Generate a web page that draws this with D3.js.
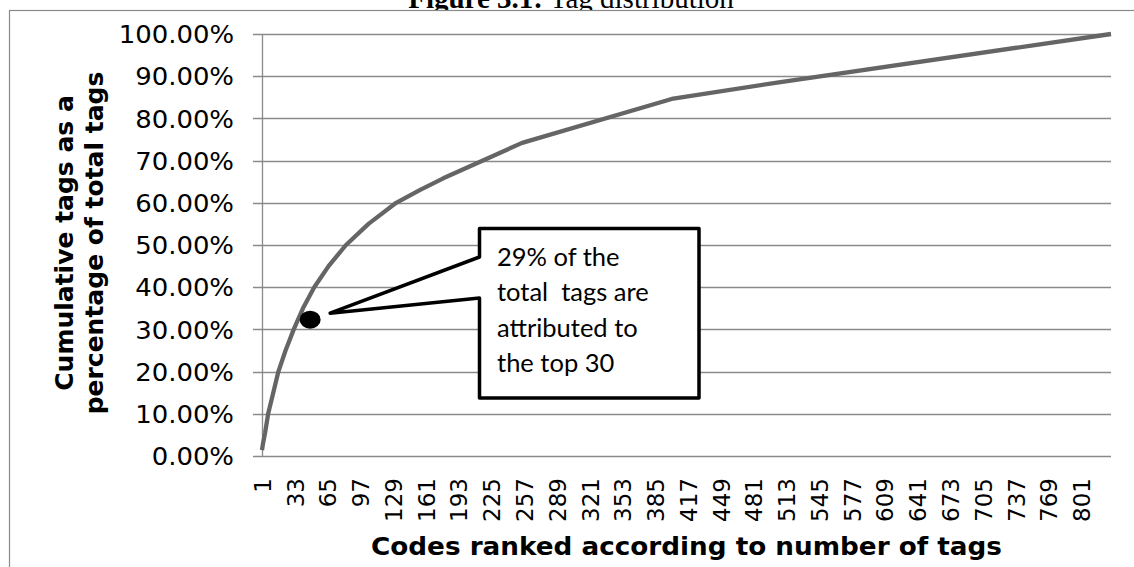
<!DOCTYPE html>
<html>
<head>
<meta charset="utf-8">
<script src="https://cdn.jsdelivr.net/npm/d3@7"></script>
<style>
  html, body { margin: 0; padding: 0; background: #fff; }
  svg { display: block; }
</style>
</head>
<body>
<svg id="chart" width="1134" height="567"></svg>
<script>
// ---- data ----
const ranks  = [1, 2, 4, 7, 12, 17, 24, 32, 41, 52, 66, 83, 105, 132, 155, 178, 255, 401, 504, 830];
const cumPct = [1.4, 3, 5.5, 10, 15, 20, 25, 30, 35, 40, 45, 50, 55, 60, 63, 65.8, 74.2, 84.6, 88.5, 100];
const xTickLabels = [1, 33, 65, 97, 129, 161, 193, 225, 257, 289, 321, 353, 385, 417, 449, 481, 513, 545, 577, 609, 641, 673, 705, 737, 769, 801];
const yTickValues = [0, 0.1, 0.2, 0.3, 0.4, 0.5, 0.6, 0.7, 0.8, 0.9, 1.0];
const nCodes = 830;
const markRank = 48, markPct = 32.3;
const titleBold = "Figure 3.1:";
const titleRest = " Tag distribution";
const yTitleLines = ["Cumulative tags as a", "percentage of total tags"];
const xTitle = "Codes ranked according to number of tags";
const calloutLines = ["29% of the", "total  tags are", "attributed to", "the top 30"];

// ---- layout ----
const svg = d3.select("#chart");
const plot = { left: 262, right: 1111, top: 34, bottom: 456 };
const gridColor = "#8a8a8a";

const x = d3.scaleLinear().domain([1, nCodes]).range([plot.left, plot.right]);
const y = d3.scaleLinear().domain([0, 1]).range([plot.bottom, plot.top]);

// title (the picture is cropped through it, as in the reference)
const title = svg.append("text")
  .attr("x", 571).attr("y", 7.5)
  .attr("text-anchor", "middle")
  .attr("font-family", "'Liberation Serif', 'Times New Roman', serif")
  .attr("font-size", 29).attr("fill", "#000");
title.append("tspan").attr("font-weight", "bold").text(titleBold);
title.append("tspan").text(titleRest);

// outer chart border (extends past the picture on right/bottom)
svg.append("rect")
  .attr("x", 9.5).attr("y", 10.5).attr("width", 1300).attr("height", 700)
  .attr("fill", "#fff").attr("stroke", gridColor).attr("stroke-width", 1.2);

// gridlines
svg.append("g").selectAll("line").data(yTickValues).join("line")
  .attr("x1", plot.left - 9).attr("x2", plot.right)
  .attr("y1", d => Math.round(y(d)) + 0.5).attr("y2", d => Math.round(y(d)) + 0.5)
  .attr("stroke", gridColor).attr("stroke-width", 1.3);

// y axis
const yAxis = svg.append("g")
  .attr("transform", `translate(${plot.left},0)`)
  .call(d3.axisLeft(y).tickValues(yTickValues).tickFormat(d3.format(".2%")).tickSize(0).tickPadding(0));
yAxis.select(".domain").remove();
yAxis.append("line")
  .attr("x1", 0.5).attr("x2", 0.5).attr("y1", plot.top).attr("y2", plot.bottom + 1)
  .attr("stroke", gridColor).attr("stroke-width", 1.3);
yAxis.selectAll("text")
  .attr("x", 0).attr("dy", "0.36em")
  .attr("text-anchor", "end")
  .attr("transform", "translate(-28,0) scale(1.08,1)")
  .attr("font-family", "'DejaVu Sans', Verdana, sans-serif")
  .attr("font-size", 24).attr("fill", "#000");

// x axis labels
const xAxis = svg.append("g")
  .attr("transform", `translate(0,${plot.bottom})`)
  .call(d3.axisBottom(x).tickValues(xTickLabels).tickFormat(d3.format("d")).tickSize(0).tickSizeOuter(0));
xAxis.select(".domain").remove();
xAxis.selectAll("text")
  .attr("transform", "rotate(-90)")
  .attr("x", -22).attr("y", 0).attr("dy", "0.36em")
  .attr("text-anchor", "end")
  .attr("font-family", "'DejaVu Sans', Verdana, sans-serif")
  .attr("font-size", 23).attr("fill", "#000");

// data line
const pts = ranks.map((r, i) => ({ rank: r, pct: cumPct[i] }));
svg.append("path")
  .datum(pts)
  .attr("fill", "none")
  .attr("stroke", "#656565")
  .attr("stroke-width", 4.3)
  .attr("stroke-linejoin", "round")
  .attr("d", d3.line().x(d => x(d.rank)).y(d => y(d.pct / 100)));

// marker dot
svg.append("ellipse")
  .attr("cx", x(markRank)).attr("cy", y(markPct / 100))
  .attr("rx", 10.5).attr("ry", 9)
  .attr("fill", "#000");

// callout box with pointer
const tip = [x(markRank) + 20, y(markPct / 100) - 6.5];
const box = { l: 479.5, r: 699, t: 228.5, b: 398 };
const callPath = d3.path();
callPath.moveTo(box.l, box.t);
callPath.lineTo(box.r, box.t);
callPath.lineTo(box.r, box.b);
callPath.lineTo(box.l, box.b);
callPath.lineTo(box.l, 298);
callPath.lineTo(tip[0], tip[1]);
callPath.lineTo(box.l, 257);
callPath.closePath();
svg.append("path")
  .attr("d", callPath.toString())
  .attr("fill", "#fff").attr("stroke", "#000")
  .attr("stroke-width", 3.5).attr("stroke-linejoin", "round");

svg.append("g").selectAll("text").data(calloutLines).join("text")
  .attr("x", 497).attr("y", (d, i) => 266 + i * 35.3)
  .attr("font-family", "Lato, 'Open Sans', sans-serif")
  .attr("font-size", 25.5).attr("fill", "#000")
  .style("white-space", "pre")
  .text(d => d);

// y axis title
const yt = svg.append("g").attr("transform", "translate(0,243) rotate(-90)");
yt.selectAll("text").data(yTitleLines).join("text")
  .attr("x", 0).attr("y", (d, i) => 73 + i * 30)
  .attr("text-anchor", "middle")
  .attr("font-family", "'DejaVu Sans', Verdana, sans-serif")
  .attr("font-weight", "bold").attr("font-size", 25).attr("fill", "#000")
  .text(d => d);

// x axis title
svg.append("text")
  .attr("transform", `translate(${(plot.left + plot.right) / 2},555) scale(1.05,1)`)
  .attr("text-anchor", "middle")
  .attr("font-family", "'DejaVu Sans', Verdana, sans-serif")
  .attr("font-weight", "bold").attr("font-size", 25).attr("fill", "#000")
  .text(xTitle);
</script>
</body>
</html>
